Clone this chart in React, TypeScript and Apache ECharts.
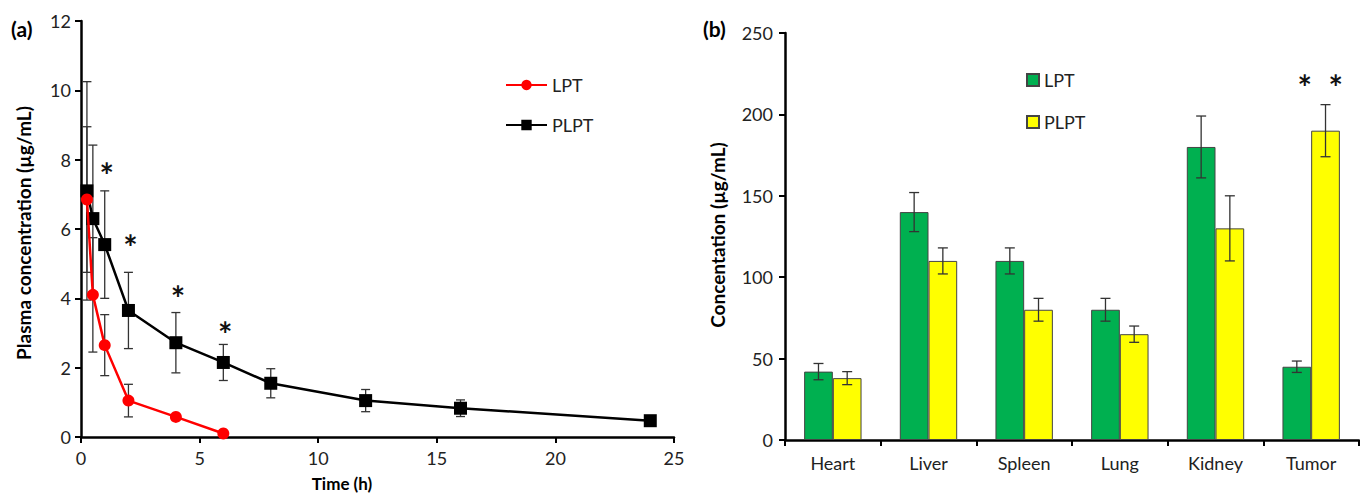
import React, { useEffect, useRef } from "react";
import * as echarts from "echarts";

// ---------- Panel (a) data ----------
const lptTime = [0.25, 0.5, 1, 2, 4, 6];
const lptConc = [6.85, 4.1, 2.65, 1.05, 0.58, 0.1];
const lptErr = [2.1, 1.65, 0.88, 0.47, 0, 0];

const plptTime = [0.25, 0.5, 1, 2, 4, 6, 8, 12, 16, 24];
const plptConc = [7.1, 6.3, 5.55, 3.65, 2.72, 2.15, 1.55, 1.05, 0.83, 0.47];
const plptErr = [3.15, 2.12, 1.55, 1.1, 0.87, 0.52, 0.42, 0.32, 0.24, 0.12];

const starTimes = [1, 2, 4, 6];
const starLevels = [7.8, 5.7, 4.25, 3.2];

// ---------- Panel (b) data ----------
const organs = ["Heart", "Liver", "Spleen", "Lung", "Kidney", "Tumor"];
const lptOrgan = [42, 140, 110, 80, 180, 45];
const lptOrganErr = [5, 12, 8, 7, 19, 3.5];
const plptOrgan = [38, 110, 80, 65, 130, 190];
const plptOrganErr = [4, 8, 7, 5, 20, 16];
const organStars = [{ cat: 5, level: 222 }];

const FONT = 'Lato, "Open Sans", sans-serif';
const TXT = "#222";
const STAR_SIZE = 34;

function errBarItem(capHalf: number, offsetFn?: (api: any) => number) {
  return (params: any, api: any) => {
    const x = api.value(0);
    const lo = api.value(1);
    const hi = api.value(2);
    const off = offsetFn ? offsetFn(api) : 0;
    const pLo = api.coord([x, lo]);
    const pHi = api.coord([x, hi]);
    const cx = pLo[0] + off;
    const style = { stroke: "#333", lineWidth: 1.3 };
    return {
      type: "group",
      children: [
        { type: "line", shape: { x1: cx, y1: pHi[1], x2: cx, y2: pLo[1] }, style },
        { type: "line", shape: { x1: cx - capHalf, y1: pHi[1], x2: cx + capHalf, y2: pHi[1] }, style },
        { type: "line", shape: { x1: cx - capHalf, y1: pLo[1], x2: cx + capHalf, y2: pLo[1] }, style },
      ],
    };
  };
}

function starText(text: string, x: number, y: number) {
  return {
    type: "text",
    x,
    y: y + STAR_SIZE * 0.22,
    style: {
      text,
      fontSize: STAR_SIZE,
      fontWeight: "bold",
      fill: "#111",
      align: "center",
      verticalAlign: "middle",
      fontFamily: FONT,
    },
  };
}

export default function App() {
  const leftRef = useRef<HTMLDivElement>(null);
  const rightRef = useRef<HTMLDivElement>(null);

  useEffect(() => {
    const left = echarts.init(leftRef.current!, null, { renderer: "svg" });
    const right = echarts.init(rightRef.current!, null, { renderer: "svg" });

    const axisCommon = {
      axisLine: { show: true, lineStyle: { color: "#000", width: 2.5 } },
      axisTick: { show: true, length: 6, lineStyle: { color: "#000", width: 2 } },
      axisLabel: { color: TXT, fontSize: 18, fontFamily: FONT },
      splitLine: { show: false },
    };

    const lptErrData = lptTime
      .map((t, i) => [t, lptConc[i] - lptErr[i], lptConc[i] + lptErr[i]])
      .filter((d, i) => lptErr[i] > 0);
    const plptErrData = plptTime.map((t, i) => [t, plptConc[i] - plptErr[i], plptConc[i] + plptErr[i]]);

    left.setOption({
      animation: false,
      grid: { left: 81, top: 21, width: 593, height: 416 },
      xAxis: {
        type: "value",
        min: 0,
        max: 25,
        interval: 5,
        ...axisCommon,
        axisLabel: { ...axisCommon.axisLabel, margin: 12 },
      },
      yAxis: {
        type: "value",
        min: 0,
        max: 12,
        interval: 2,
        ...axisCommon,
        axisLabel: { ...axisCommon.axisLabel, margin: 10 },
      },
      legend: {
        data: ["LPT", "PLPT"],
        orient: "vertical",
        left: 500,
        top: 71,
        itemWidth: 41,
        itemHeight: 13,
        itemGap: 22,
        textStyle: { fontSize: 18, color: TXT, fontFamily: FONT },
      },
      series: [
        {
          name: "errPLPT",
          type: "custom",
          renderItem: errBarItem(4.5),
          data: plptErrData,
          z: 1,
          silent: true,
        },
        {
          name: "errLPT",
          type: "custom",
          renderItem: errBarItem(4.5),
          data: lptErrData,
          z: 1,
          silent: true,
        },
        {
          name: "PLPT",
          type: "line",
          data: plptTime.map((t, i) => [t, plptConc[i]]),
          symbol: "rect",
          symbolSize: 13,
          lineStyle: { color: "#000", width: 2.5 },
          itemStyle: { color: "#000" },
          z: 3,
        },
        {
          name: "LPT",
          type: "line",
          data: lptTime.map((t, i) => [t, lptConc[i]]),
          symbol: "circle",
          symbolSize: 12,
          lineStyle: { color: "#ff0000", width: 2.5 },
          itemStyle: { color: "#ff0000" },
          z: 4,
        },
        {
          name: "stars",
          type: "custom",
          renderItem: (params: any, api: any) => {
            const p = api.coord([api.value(0), api.value(1)]);
            return starText("*", p[0] + 2, p[1]);
          },
          data: starTimes.map((t, i) => [t, starLevels[i]]),
          silent: true,
        },
      ],
      graphic: [
        {
          type: "text",
          left: 11,
          top: 18,
          style: { text: "(a)", fontSize: 21, fontWeight: "bold", fill: "#000", fontFamily: FONT },
        },
        {
          type: "text",
          x: 23,
          y: 233,
          rotation: Math.PI / 2,
          style: {
            text: "Plasma concentration (µg/mL)",
            fontSize: 19,
            fontWeight: "bold",
            fill: "#000",
            align: "center",
            verticalAlign: "middle",
            fontFamily: FONT,
          },
        },
        {
          type: "text",
          x: 342,
          y: 483,
          style: {
            text: "Time (h)",
            fontSize: 17,
            fontWeight: "bold",
            fill: "#000",
            align: "center",
            verticalAlign: "middle",
            fontFamily: FONT,
          },
        },
      ],
    });

    const barGapCat = 0.4;
    const barOffset = (sign: number) => (api: any) => {
      const band = api.size([1, 0])[0];
      const bw = (band * (1 - barGapCat)) / 2;
      return (sign * bw) / 2;
    };

    right.setOption({
      animation: false,
      grid: { left: 85, top: 33, width: 574, height: 407 },
      xAxis: {
        type: "category",
        data: organs,
        ...axisCommon,
        axisTick: { show: true, length: 6, alignWithLabel: false, lineStyle: { color: "#000", width: 2 } },
        axisLabel: { ...axisCommon.axisLabel, margin: 14 },
      },
      yAxis: {
        type: "value",
        min: 0,
        max: 250,
        interval: 50,
        ...axisCommon,
        axisLabel: { ...axisCommon.axisLabel, margin: 12 },
      },
      legend: {
        data: ["LPT", "PLPT"],
        orient: "vertical",
        left: 321,
        top: 66,
        itemWidth: 12,
        itemHeight: 12,
        itemGap: 24,
        icon: "rect",
        textStyle: { fontSize: 18, color: TXT, fontFamily: FONT },
      },
      series: [
        {
          name: "LPT",
          type: "bar",
          data: lptOrgan,
          barGap: "0%",
          barCategoryGap: "40%",
          itemStyle: { color: "#00b050", borderColor: "#444", borderWidth: 1 },
        },
        {
          name: "PLPT",
          type: "bar",
          data: plptOrgan,
          itemStyle: { color: "#ffff00", borderColor: "#444", borderWidth: 1 },
        },
        {
          name: "errLPTb",
          type: "custom",
          renderItem: errBarItem(5, barOffset(-1)),
          data: lptOrgan.map((v, i) => [i, v - lptOrganErr[i], v + lptOrganErr[i]]),
          z: 5,
          silent: true,
        },
        {
          name: "errPLPTb",
          type: "custom",
          renderItem: errBarItem(5, barOffset(1)),
          data: plptOrgan.map((v, i) => [i, v - plptOrganErr[i], v + plptOrganErr[i]]),
          z: 5,
          silent: true,
        },
        {
          name: "starsB",
          type: "custom",
          renderItem: (params: any, api: any) => {
            const p = api.coord([api.value(0), api.value(1)]);
            return starText("*  *", p[0] + 9, p[1]);
          },
          data: organStars.map((s) => [s.cat, s.level]),
          silent: true,
        },
      ],
      graphic: [
        {
          type: "text",
          left: 3,
          top: 18,
          style: { text: "(b)", fontSize: 21, fontWeight: "bold", fill: "#000", fontFamily: FONT },
        },
        {
          type: "text",
          x: 17,
          y: 235,
          rotation: Math.PI / 2,
          style: {
            text: "Concentation (µg/mL)",
            fontSize: 19,
            fontWeight: "bold",
            fill: "#000",
            align: "center",
            verticalAlign: "middle",
            fontFamily: FONT,
          },
        },
      ],
    });

    return () => {
      left.dispose();
      right.dispose();
    };
  }, []);

  return (
    <div style={{ position: "absolute", left: 0, top: 0, width: 1360, height: 494, background: "#fff" }}>
      <div ref={leftRef} style={{ position: "absolute", left: 0, top: 0, width: 700, height: 494 }} />
      <div ref={rightRef} style={{ position: "absolute", left: 700, top: 0, width: 660, height: 494 }} />
    </div>
  );
}
